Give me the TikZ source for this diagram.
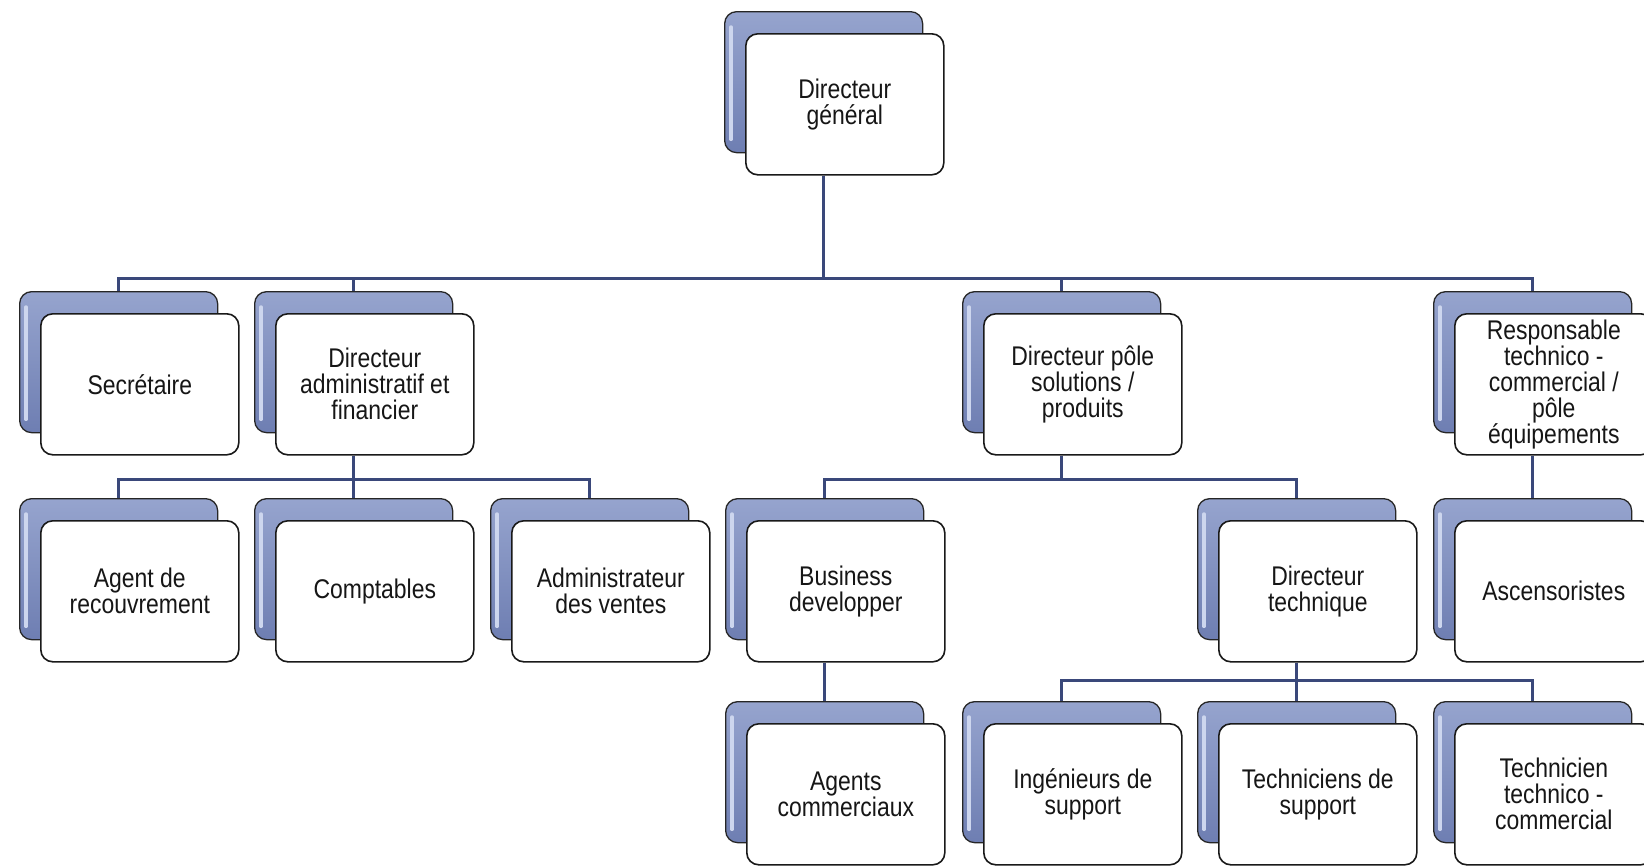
\documentclass[tikz,border=0pt]{standalone}
\usepackage{fontspec}
\setmainfont{Liberation Sans}
\newfontfamily\boxfont[FakeStretch=0.85]{Liberation Sans}
\definecolor{conn}{RGB}{58,72,122}
\definecolor{backfill}{RGB}{110,126,178}
\definecolor{backtop}{RGB}{150,164,206}
\definecolor{backhi}{RGB}{205,214,238}
\definecolor{txt}{RGB}{22,22,22}
\tikzset{
  x=1pt, y=1pt,
  frontbox/.style={draw=black!90, line width=1.6pt, fill=white, rounded corners=12pt,
    minimum width=198pt, minimum height=141pt, inner sep=0pt, align=center,
    text=txt, font=\boxfont\fontsize{27}{26}\selectfont},
  backbox/.style={draw=black!85, line width=1.3pt, top color=backtop, bottom color=backfill,
    rounded corners=12pt, minimum width=198pt, minimum height=141pt, inner sep=0pt},
  hiline/.style={draw=backhi, line width=3.5pt, line cap=round},
  link/.style={draw=conn, line width=3pt}
}
\newcommand\orgunit[4]{%
  \node[backbox, anchor=north west] (#1b) at ({#2-21},{-#3+22}) {};
  \draw[hiline] ([shift={(7,14)}]#1b.south west) -- ([shift={(7,-16)}]#1b.north west);
  \node[frontbox, anchor=north west] (#1) at (#2,-#3) {#4};
}
\begin{document}
\begin{tikzpicture}
\useasboundingbox (0,0) rectangle (1644,-865);
\clip (0,0) rectangle (1644,-865);
\fill[white] (0,0) rectangle (1644,-865);
\coordinate (bus1) at (0,-278);
\coordinate (bus2) at (0,-479);
\coordinate (bus3) at (0,-680);
% row 0
\orgunit{dg}{745}{33}{Directeur\\général}
% row 1
\orgunit{sec}{40}{313}{Secrétaire}
\orgunit{daf}{275}{313}{Directeur\\administratif et\\financier}
\orgunit{dps}{983}{313}{Directeur pôle\\solutions /\\produits}
\orgunit{rtc}{1454}{313}{Responsable\\technico -\\commercial /\\pôle\\équipements}
% row 2
\orgunit{agr}{40}{520}{Agent de\\recouvrement}
\orgunit{cpt}{275}{520}{Comptables}
\orgunit{adv}{511}{520}{Administrateur\\des ventes}
\orgunit{bdv}{746}{520}{Business\\developper}
\orgunit{dtc}{1218}{520}{Directeur\\technique}
\orgunit{asc}{1454}{520}{Ascensoristes}
% row 3
\orgunit{agc}{746}{723}{Agents\\commerciaux}
\orgunit{ing}{983}{723}{Ingénieurs de\\support}
\orgunit{tsp}{1218}{723}{Techniciens de\\support}
\orgunit{ttc}{1454}{723}{Technicien\\technico -\\commercial}
% connectors
\foreach \c in {sec,daf,dps,rtc}
  \draw[link] (dgb.north |- dg.south) -- (dgb.north |- bus1) -| (\c b.north);
\foreach \c in {agr,cpt,adv}
  \draw[link] (dafb.north |- daf.south) -- (dafb.north |- bus2) -| (\c b.north);
\foreach \c in {bdv,dtc}
  \draw[link] (dpsb.north |- dps.south) -- (dpsb.north |- bus2) -| (\c b.north);
\draw[link] (rtcb.north |- rtc.south) -- (ascb.north);
\draw[link] (bdvb.north |- bdv.south) -- (agcb.north);
\foreach \c in {ing,tsp,ttc}
  \draw[link] (dtcb.north |- dtc.south) -- (dtcb.north |- bus3) -| (\c b.north);
\end{tikzpicture}
\end{document}
